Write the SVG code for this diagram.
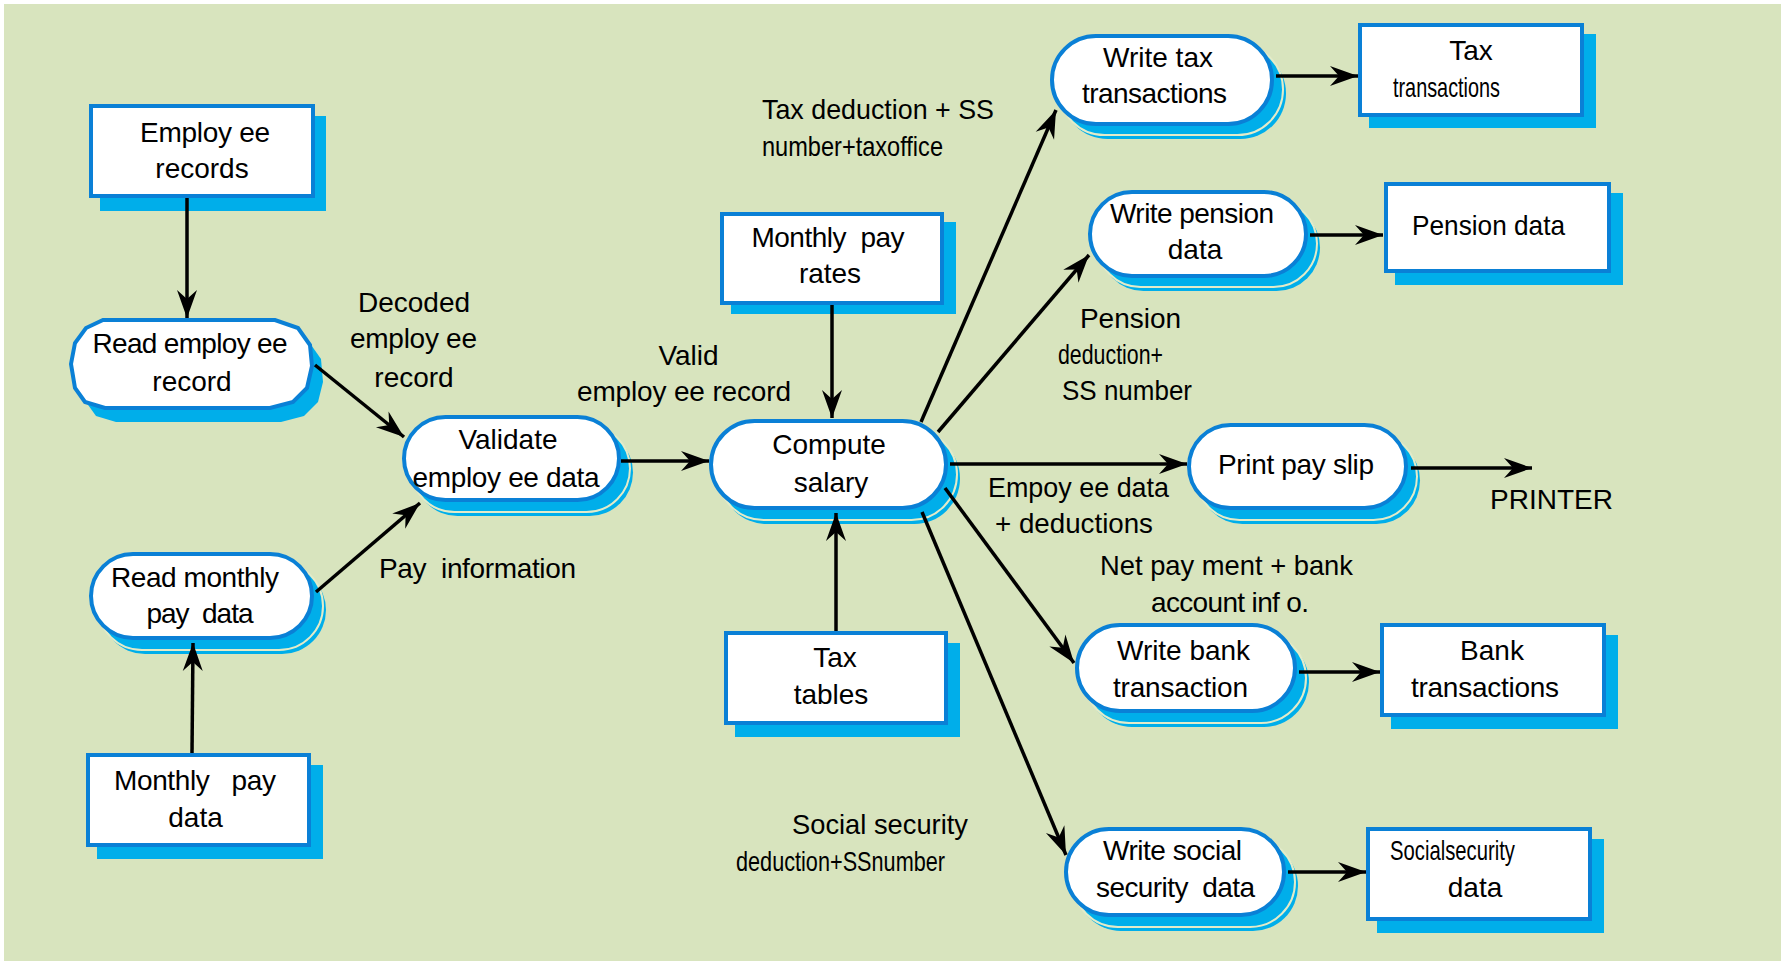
<svg xmlns="http://www.w3.org/2000/svg" width="1786" height="961" viewBox="0 0 1786 961">
<style>
.bg{fill:#D8E4BE}
.box{fill:#fff;stroke:#0A80D6;stroke-width:4}
.sh{fill:#00AEEA}
.shp{fill:#00AEEA;stroke:#E3EBC9;stroke-width:2}
.proc{fill:#fff;stroke:#0A80D6;stroke-width:4}
.t{font-family:"Liberation Sans",Arial,sans-serif;font-size:28px;fill:#000;white-space:pre}
.m{text-anchor:middle}
.c line{stroke:#000;stroke-width:3.5;fill:none;marker-end:url(#ah)}
</style>
<defs>
<marker id="ah" markerUnits="userSpaceOnUse" viewBox="-30 -12 32 24" markerWidth="32" markerHeight="24" refX="0" refY="0" orient="auto">
<path d="M0,0 L-28,-10 L-19,0 L-28,10 Z" fill="#000"/>
</marker>
</defs>
<rect class="bg" x="4" y="4" width="1777" height="957"/>

<g id="employee-records">
<rect class="sh" x="100" y="116" width="226" height="95"/>
<rect class="box" x="91" y="106" width="222" height="90"/>
<text class="t m" x="205" y="142" textLength="130">Employ ee</text>
<text class="t m" x="202" y="178">records</text>
</g>

<g id="read-employee-record">
<path class="sh" d="M114,334 L286,334 L309,342 L321,359 L323,382 L318,402 L304,416 L281,422 L116,422 L96,416 L86,402 L82,379 L86,357 L97,342 Z"/>
<path class="proc" d="M103,320 L275,320 L298,328 L310,345 L312,366 L307,388 L293,402 L270,408 L105,408 L85,402 L75,388 L71,364 L75,343 L86,328 Z"/>
<text class="t m" x="190" y="353" textLength="195">Read employ ee</text>
<text class="t m" x="192" y="391">record</text>
</g>

<g id="validate-employee-data">
<rect class="sh" x="414" y="429" width="219" height="87" rx="43.5"/>
<rect class="shp" x="411" y="425" width="219" height="87" rx="43.5"/>
<rect class="proc" x="404" y="417" width="215" height="83" rx="41.5"/>
<text class="t m" x="508" y="449">Validate</text>
<text class="t m" x="506" y="487" textLength="187">employ ee data</text>
</g>

<g id="read-monthly-pay-data">
<rect class="sh" x="101" y="566" width="225" height="88" rx="44"/>
<rect class="shp" x="98" y="562" width="225" height="88" rx="44"/>
<rect class="proc" x="91" y="554" width="221" height="84" rx="42"/>
<text class="t m" x="195" y="587" textLength="168">Read monthly</text>
<text class="t m" x="200" y="623" textLength="107">pay  data</text>
</g>

<g id="monthly-pay-data">
<rect class="sh" x="97" y="765" width="226" height="94"/>
<rect class="box" x="88" y="755" width="221" height="90"/>
<text class="t m" x="195" y="790" textLength="162">Monthly   pay</text>
<text class="t m" x="195.5" y="827">data</text>
</g>

<g id="monthly-pay-rates">
<rect class="sh" x="731" y="222" width="225" height="92"/>
<rect class="box" x="722" y="214" width="220" height="89"/>
<text class="t m" x="828" y="247" textLength="153">Monthly  pay</text>
<text class="t m" x="830" y="283">rates</text>
</g>

<g id="compute-salary">
<rect class="sh" x="721" y="433" width="239" height="91" rx="45.5"/>
<rect class="shp" x="718" y="429" width="239" height="91" rx="45.5"/>
<rect class="proc" x="711" y="421" width="235" height="87" rx="43.5"/>
<text class="t m" x="829" y="454">Compute</text>
<text class="t m" x="831" y="492">salary</text>
</g>

<g id="tax-tables">
<rect class="sh" x="735" y="643" width="225" height="94"/>
<rect class="box" x="726" y="633" width="220" height="90"/>
<text class="t m" x="835" y="667">Tax</text>
<text class="t m" x="831" y="704">tables</text>
</g>

<g id="write-tax-transactions">
<rect class="sh" x="1062" y="48" width="224" height="91" rx="45.5"/>
<rect class="shp" x="1059" y="44" width="224" height="91" rx="45.5"/>
<rect class="proc" x="1052" y="36" width="220" height="88" rx="44"/>
<text class="t m" x="1158" y="67">Write tax</text>
<text class="t m" x="1154.5" y="103" textLength="145">transactions</text>
</g>

<g id="tax-transactions">
<rect class="sh" x="1369" y="34" width="227" height="94"/>
<rect class="box" x="1360" y="25" width="222" height="90"/>
<text class="t m" x="1471" y="60">Tax</text>
<text class="t" x="1393" y="97" textLength="107" lengthAdjust="spacingAndGlyphs">transactions</text>
</g>

<g id="write-pension-data">
<rect class="sh" x="1100" y="204" width="220" height="87" rx="43.5"/>
<rect class="shp" x="1097" y="200" width="220" height="87" rx="43.5"/>
<rect class="proc" x="1090" y="192" width="216" height="84" rx="42"/>
<text class="t m" x="1192" y="223" textLength="164">Write pension</text>
<text class="t m" x="1195" y="259">data</text>
</g>

<g id="pension-data">
<rect class="sh" x="1395" y="193" width="228" height="92"/>
<rect class="box" x="1386" y="184" width="223" height="87"/>
<text class="t" x="1412" y="235" textLength="153" lengthAdjust="spacingAndGlyphs">Pension data</text>
</g>

<g id="print-pay-slip">
<rect class="sh" x="1199" y="437" width="221" height="87" rx="43.5"/>
<rect class="shp" x="1196" y="433" width="221" height="87" rx="43.5"/>
<rect class="proc" x="1189" y="425" width="217" height="83" rx="41.5"/>
<text class="t m" x="1296" y="474" textLength="156">Print pay slip</text>
</g>

<g id="printer">
<text class="t" x="1490" y="509">PRINTER</text>
</g>

<g id="write-bank-transaction">
<rect class="sh" x="1087" y="637" width="222" height="90" rx="45"/>
<rect class="shp" x="1084" y="633" width="222" height="90" rx="45"/>
<rect class="proc" x="1077" y="625" width="218" height="86" rx="43"/>
<text class="t m" x="1183.5" y="660" textLength="133">Write bank</text>
<text class="t m" x="1180.5" y="697" textLength="135">transaction</text>
</g>

<g id="bank-transactions">
<rect class="sh" x="1391" y="635" width="227" height="94"/>
<rect class="box" x="1382" y="625" width="222" height="90"/>
<text class="t m" x="1492" y="660">Bank</text>
<text class="t m" x="1485" y="697" textLength="148">transactions</text>
</g>

<g id="write-social-security-data">
<rect class="sh" x="1076" y="841" width="222" height="90" rx="45"/>
<rect class="shp" x="1073" y="837" width="222" height="90" rx="45"/>
<rect class="proc" x="1066" y="829" width="218" height="86" rx="43"/>
<text class="t m" x="1172.5" y="860" textLength="139">Write social</text>
<text class="t m" x="1175.5" y="897" textLength="159">security  data</text>
</g>

<g id="social-security-data">
<rect class="sh" x="1377" y="839" width="227" height="94"/>
<rect class="box" x="1368" y="829" width="222" height="90"/>
<text class="t" x="1390" y="860" textLength="125" lengthAdjust="spacingAndGlyphs">Socialsecurity</text>
<text class="t m" x="1475" y="897">data</text>
</g>

<g id="labels">
<text class="t m" x="414" y="312">Decoded</text>
<text class="t m" x="413.5" y="348" textLength="127">employ ee</text>
<text class="t m" x="414" y="387">record</text>
<text class="t m" x="688.5" y="365">Valid</text>
<text class="t" x="577" y="401" textLength="214">employ ee record</text>
<text class="t" x="379" y="578" textLength="197">Pay  information</text>
<text class="t" x="762" y="119" textLength="232" lengthAdjust="spacingAndGlyphs">Tax deduction + SS</text>
<text class="t" x="762" y="156" textLength="181" lengthAdjust="spacingAndGlyphs">number+taxoffice</text>
<text class="t m" x="1130.5" y="328">Pension</text>
<text class="t" x="1058" y="364" textLength="105" lengthAdjust="spacingAndGlyphs">deduction+</text>
<text class="t" x="1062" y="400" textLength="130" lengthAdjust="spacingAndGlyphs">SS number</text>
<text class="t" x="988" y="497" textLength="181" lengthAdjust="spacingAndGlyphs">Empoy ee data</text>
<text class="t" x="995" y="533" textLength="158" lengthAdjust="spacingAndGlyphs">+ deductions</text>
<text class="t" x="1100" y="575" textLength="253" lengthAdjust="spacingAndGlyphs">Net pay ment + bank</text>
<text class="t" x="1151" y="612" textLength="158">account inf o.</text>
<text class="t" x="792" y="834" textLength="176" lengthAdjust="spacingAndGlyphs">Social security</text>
<text class="t" x="736" y="871" textLength="209" lengthAdjust="spacingAndGlyphs">deduction+SSnumber</text>
</g>

<g id="connectors" class="c">
<line x1="187" y1="198" x2="187" y2="318"/>
<line x1="315" y1="365" x2="404" y2="437"/>
<line x1="316" y1="592" x2="420" y2="503"/>
<line x1="192" y1="753" x2="193" y2="643"/>
<line x1="621" y1="461" x2="709" y2="461"/>
<line x1="832" y1="305" x2="832" y2="418"/>
<line x1="836" y1="631" x2="836" y2="513"/>
<line x1="921" y1="422" x2="1056" y2="110"/>
<line x1="938" y1="432" x2="1089" y2="255"/>
<line x1="950" y1="464" x2="1187" y2="464"/>
<line x1="945" y1="488" x2="1074" y2="663"/>
<line x1="922" y1="512" x2="1066" y2="855"/>
<line x1="1276" y1="76" x2="1358" y2="76"/>
<line x1="1310" y1="235" x2="1383" y2="235"/>
<line x1="1411" y1="468" x2="1532" y2="468"/>
<line x1="1299" y1="672" x2="1380" y2="672"/>
<line x1="1288" y1="872" x2="1366" y2="872"/>
</g>
</svg>
